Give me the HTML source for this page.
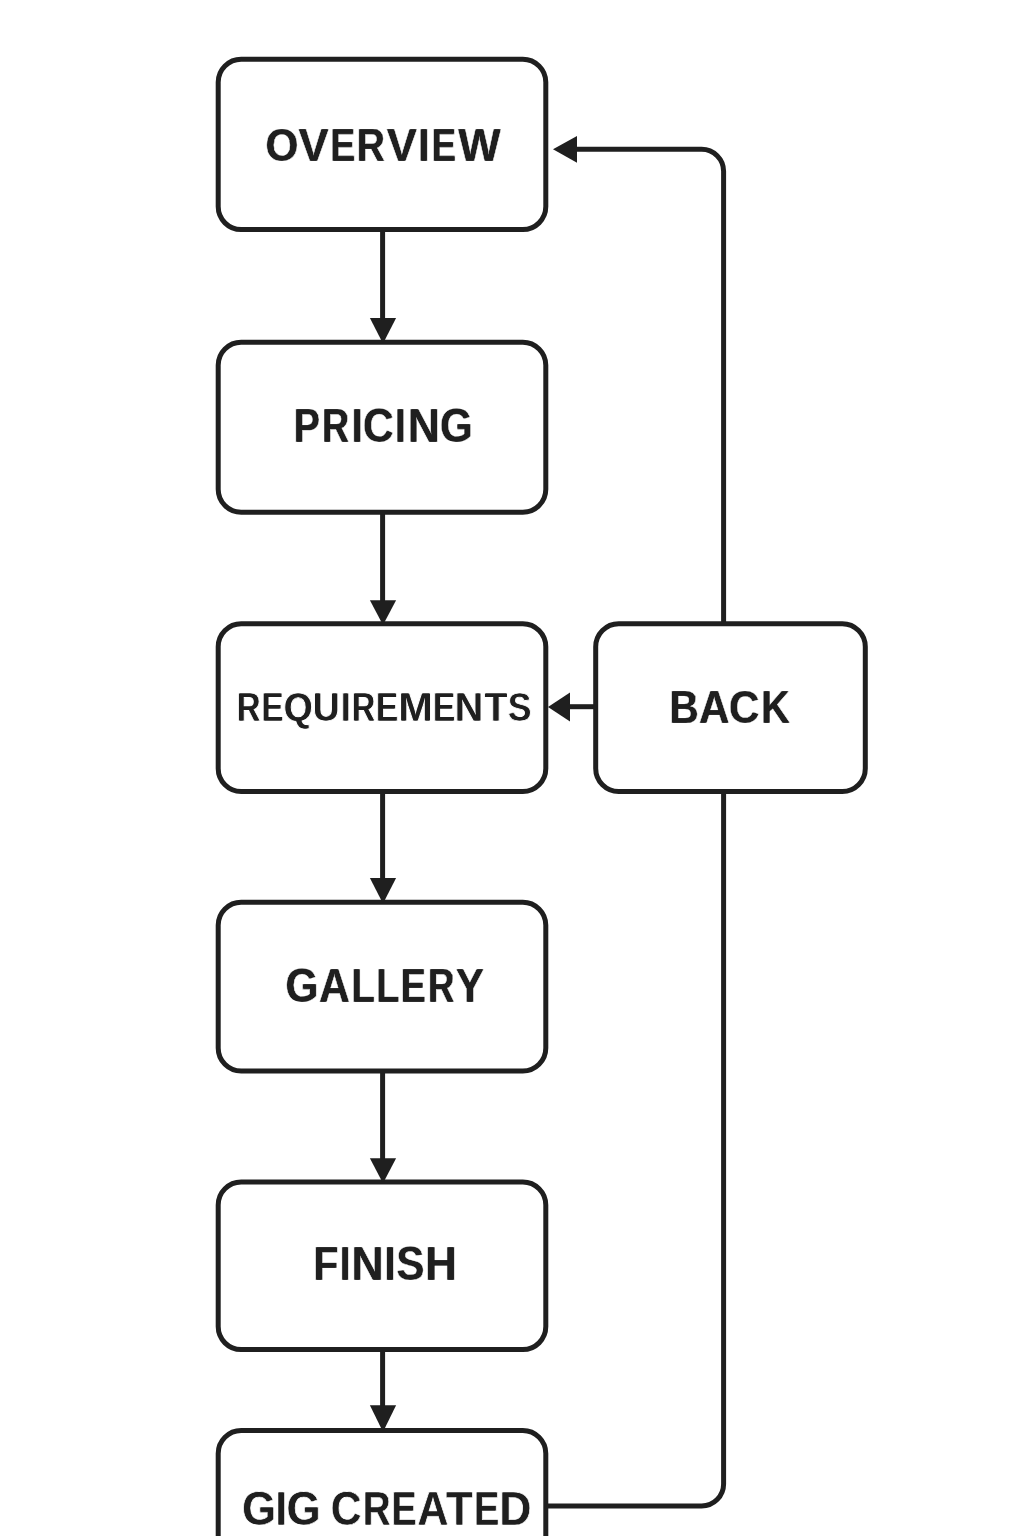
<!DOCTYPE html>
<html><head><meta charset="utf-8"><style>
html,body{margin:0;padding:0;background:#ffffff;width:1024px;height:1536px;overflow:hidden}
svg{display:block}
text{font-family:"Liberation Sans",sans-serif;font-weight:bold}
</style></head><body>
<svg width="1024" height="1536" viewBox="0 0 1024 1536">
<rect width="1024" height="1536" fill="#ffffff"/>
<g fill="none" stroke="#1f1f1f" stroke-width="5.0" stroke-linecap="butt" stroke-linejoin="round">
<path d="M 545.8 1506.0 L 701.6 1506.0 A 22 22 0 0 0 723.6 1484.0 L 723.6 171.3 A 22 22 0 0 0 701.6 149.3 L 574 149.3"/>
<line x1="382.6" y1="229.6" x2="382.6" y2="320.1"/><line x1="382.6" y1="512.3" x2="382.6" y2="602.2"/><line x1="382.6" y1="791.5" x2="382.6" y2="879.9"/><line x1="382.6" y1="1071.0" x2="382.6" y2="1160.3"/><line x1="382.6" y1="1349.6" x2="382.6" y2="1407.3"/><line x1="595.7" y1="706.7" x2="568" y2="706.7"/>
</g>
<g fill="#ffffff" stroke="#1f1f1f" stroke-width="5.0">
<rect x="218.2" y="59.3" width="327.60" height="170.30" rx="23" ry="23"/><rect x="218.2" y="342.3" width="327.60" height="170.00" rx="23" ry="23"/><rect x="218.2" y="623.8" width="327.60" height="167.70" rx="23" ry="23"/><rect x="218.2" y="902.3" width="327.60" height="168.70" rx="23" ry="23"/><rect x="218.2" y="1182.0" width="327.60" height="167.60" rx="23" ry="23"/><rect x="218.2" y="1430.5" width="327.60" height="189.50" rx="23" ry="23"/>
<rect x="595.7" y="623.8" width="269.60" height="167.70" rx="23" ry="23"/>
</g>
<g fill="#1f1f1f" stroke="none">
<polygon points="369.9,318.1 396.1,318.1 384.2,341.3 383.0,342.8 381.8,341.3"/><polygon points="369.9,600.2 396.1,600.2 384.2,622.8 383.0,624.3 381.8,622.8"/><polygon points="369.9,877.9 396.1,877.9 384.2,901.3 383.0,902.8 381.8,901.3"/><polygon points="369.9,1158.3 396.1,1158.3 384.2,1181.0 383.0,1182.5 381.8,1181.0"/><polygon points="369.9,1405.3 396.1,1405.3 384.2,1429.5 383.0,1431.0 381.8,1429.5"/><polygon points="553,149.3 577,135.9 577,162.70000000000002"/><polygon points="548,707.0 570,692.6 570,721.4000000000001"/>
</g>
<defs><g font-family="Liberation Sans, sans-serif" font-weight="bold"><g id="w0"><text transform="translate(265.61 160.90) scale(0.9179 1)" font-size="46.09">O</text><text transform="translate(298.55 160.90) scale(0.9814 1)" font-size="46.09">V</text><text transform="translate(330.27 160.90) scale(0.8103 1)" font-size="46.09">E</text><text transform="translate(356.77 160.90) scale(0.8440 1)" font-size="46.09">R</text><text transform="translate(386.75 160.90) scale(0.9814 1)" font-size="46.09">V</text><text transform="translate(418.11 160.90) scale(0.8979 1)" font-size="46.09">I</text><text transform="translate(431.84 160.90) scale(0.7873 1)" font-size="46.09">E</text><text transform="translate(458.20 160.90) scale(0.9741 1)" font-size="46.09">W</text></g><mask id="m0_0" maskUnits="userSpaceOnUse" x="261.1" y="121.4" width="245.5" height="51.2"><use href="#w0" x="-0.5" fill="#ffffff" stroke="#000000" stroke-width="0.6"/></mask><mask id="m0_1" maskUnits="userSpaceOnUse" x="261.1" y="121.4" width="245.5" height="51.2"><use href="#w0" x="0.5" fill="#ffffff" stroke="#000000" stroke-width="0.6"/></mask><g id="w1"><text transform="translate(293.76 442.10) scale(0.8281 1)" font-size="47.25">P</text><text transform="translate(321.96 442.10) scale(0.7933 1)" font-size="47.25">R</text><text transform="translate(351.64 442.10) scale(0.8320 1)" font-size="47.25">I</text><text transform="translate(362.90 442.10) scale(0.8983 1)" font-size="47.25">C</text><text transform="translate(394.99 442.10) scale(0.8174 1)" font-size="47.25">I</text><text transform="translate(407.71 442.10) scale(0.9399 1)" font-size="47.25">N</text><text transform="translate(439.92 442.10) scale(0.8905 1)" font-size="47.25">G</text></g><mask id="m1_0" maskUnits="userSpaceOnUse" x="290.1" y="401.8" width="186.1" height="52.0"><use href="#w1" x="-0.5" fill="#ffffff" stroke="#000000" stroke-width="0.6"/></mask><mask id="m1_1" maskUnits="userSpaceOnUse" x="290.1" y="401.8" width="186.1" height="52.0"><use href="#w1" x="0.5" fill="#ffffff" stroke="#000000" stroke-width="0.6"/></mask><g id="w2"><text transform="translate(236.72 721.05) scale(0.7930 1)" font-size="41.30">R</text><text transform="translate(261.61 721.05) scale(0.7970 1)" font-size="41.30">E</text><text transform="translate(283.76 721.05) scale(0.9022 1)" font-size="41.30">Q</text><text transform="translate(312.82 721.05) scale(0.8998 1)" font-size="41.30">U</text><text transform="translate(340.91 721.05) scale(0.8348 1)" font-size="41.30">I</text><text transform="translate(351.74 721.05) scale(0.7854 1)" font-size="41.30">R</text><text transform="translate(376.10 721.05) scale(0.8013 1)" font-size="41.30">E</text><text transform="translate(398.35 721.05) scale(1.0065 1)" font-size="41.30">M</text><text transform="translate(432.89 721.05) scale(0.8056 1)" font-size="41.30">E</text><text transform="translate(454.79 721.05) scale(0.9520 1)" font-size="41.30">N</text><text transform="translate(484.38 721.05) scale(0.9069 1)" font-size="41.30">T</text><text transform="translate(507.90 721.05) scale(0.8474 1)" font-size="41.30">S</text></g><mask id="m2_0" maskUnits="userSpaceOnUse" x="232.9" y="685.1" width="303.0" height="47.4"><use href="#w2" x="-0.5" fill="#ffffff" stroke="#000000" stroke-width="1.1"/></mask><mask id="m2_1" maskUnits="userSpaceOnUse" x="232.9" y="685.1" width="303.0" height="47.4"><use href="#w2" x="0.5" fill="#ffffff" stroke="#000000" stroke-width="1.1"/></mask><g id="w3"><text transform="translate(285.61 1001.80) scale(0.8855 1)" font-size="47.68">G</text><text transform="translate(319.03 1001.80) scale(0.8953 1)" font-size="47.68">A</text><text transform="translate(351.53 1001.80) scale(0.7982 1)" font-size="47.68">L</text><text transform="translate(376.14 1001.80) scale(0.7941 1)" font-size="47.68">L</text><text transform="translate(400.66 1001.80) scale(0.7869 1)" font-size="47.68">E</text><text transform="translate(427.93 1001.80) scale(0.7662 1)" font-size="47.68">R</text><text transform="translate(455.65 1001.80) scale(0.8888 1)" font-size="47.68">Y</text></g><mask id="m3_0" maskUnits="userSpaceOnUse" x="281.1" y="961.2" width="208.3" height="52.3"><use href="#w3" x="-0.5" fill="#ffffff" stroke="#000000" stroke-width="0.6"/></mask><mask id="m3_1" maskUnits="userSpaceOnUse" x="281.1" y="961.2" width="208.3" height="52.3"><use href="#w3" x="0.5" fill="#ffffff" stroke="#000000" stroke-width="0.6"/></mask><g id="w4"><text transform="translate(313.46 1279.80) scale(0.8461 1)" font-size="47.97">F</text><text transform="translate(340.02 1279.80) scale(0.7620 1)" font-size="47.97">I</text><text transform="translate(351.41 1279.80) scale(0.9257 1)" font-size="47.97">N</text><text transform="translate(384.73 1279.80) scale(0.7907 1)" font-size="47.97">I</text><text transform="translate(396.55 1279.80) scale(0.8686 1)" font-size="47.97">S</text><text transform="translate(425.37 1279.80) scale(0.9080 1)" font-size="47.97">H</text></g><mask id="m4_0" maskUnits="userSpaceOnUse" x="309.9" y="1239.0" width="150.2" height="52.5"><use href="#w4" x="-0.5" fill="#ffffff" stroke="#000000" stroke-width="0.6"/></mask><mask id="m4_1" maskUnits="userSpaceOnUse" x="309.9" y="1239.0" width="150.2" height="52.5"><use href="#w4" x="0.5" fill="#ffffff" stroke="#000000" stroke-width="0.6"/></mask><g id="w5"><text transform="translate(242.11 1525.10) scale(0.9219 1)" font-size="47.25">G</text><text transform="translate(275.61 1525.10) scale(0.8612 1)" font-size="47.25">I</text><text transform="translate(286.71 1525.10) scale(0.9219 1)" font-size="47.25">G</text><text transform="translate(330.75 1525.10) scale(0.9016 1)" font-size="47.25">C</text><text transform="translate(362.74 1525.10) scale(0.8166 1)" font-size="47.25">R</text><text transform="translate(391.62 1525.10) scale(0.7904 1)" font-size="47.25">E</text><text transform="translate(417.37 1525.10) scale(0.9130 1)" font-size="47.25">A</text><text transform="translate(446.01 1525.10) scale(0.9255 1)" font-size="47.25">T</text><text transform="translate(473.99 1525.10) scale(0.8017 1)" font-size="47.25">E</text><text transform="translate(499.28 1525.10) scale(0.9361 1)" font-size="47.25">D</text></g><mask id="m5_0" maskUnits="userSpaceOnUse" x="237.9" y="1484.9" width="297.4" height="51.8"><use href="#w5" x="-0.35" fill="#ffffff" stroke="#000000" stroke-width="0.8"/></mask><mask id="m5_1" maskUnits="userSpaceOnUse" x="237.9" y="1484.9" width="297.4" height="51.8"><use href="#w5" x="0.35" fill="#ffffff" stroke="#000000" stroke-width="0.8"/></mask><g id="w6"><text transform="translate(669.38 722.90) scale(0.8696 1)" font-size="46.38">B</text><text transform="translate(699.04 722.90) scale(0.9108 1)" font-size="46.38">A</text><text transform="translate(729.01 722.90) scale(0.9086 1)" font-size="46.38">C</text><text transform="translate(760.89 722.90) scale(0.8658 1)" font-size="46.38">K</text></g><mask id="m6_0" maskUnits="userSpaceOnUse" x="665.8" y="683.2" width="129.8" height="51.4"><use href="#w6" x="-0.5" fill="#ffffff" stroke="#000000" stroke-width="0.6"/></mask><mask id="m6_1" maskUnits="userSpaceOnUse" x="665.8" y="683.2" width="129.8" height="51.4"><use href="#w6" x="0.5" fill="#ffffff" stroke="#000000" stroke-width="0.6"/></mask></g></defs><rect x="261.1" y="121.4" width="245.5" height="51.2" fill="#1f1f1f" mask="url(#m0_0)"/><rect x="261.1" y="121.4" width="245.5" height="51.2" fill="#1f1f1f" mask="url(#m0_1)"/><rect x="290.1" y="401.8" width="186.1" height="52.0" fill="#1f1f1f" mask="url(#m1_0)"/><rect x="290.1" y="401.8" width="186.1" height="52.0" fill="#1f1f1f" mask="url(#m1_1)"/><rect x="232.9" y="685.1" width="303.0" height="47.4" fill="#1f1f1f" mask="url(#m2_0)"/><rect x="232.9" y="685.1" width="303.0" height="47.4" fill="#1f1f1f" mask="url(#m2_1)"/><rect x="281.1" y="961.2" width="208.3" height="52.3" fill="#1f1f1f" mask="url(#m3_0)"/><rect x="281.1" y="961.2" width="208.3" height="52.3" fill="#1f1f1f" mask="url(#m3_1)"/><rect x="309.9" y="1239.0" width="150.2" height="52.5" fill="#1f1f1f" mask="url(#m4_0)"/><rect x="309.9" y="1239.0" width="150.2" height="52.5" fill="#1f1f1f" mask="url(#m4_1)"/><rect x="237.9" y="1484.9" width="297.4" height="51.8" fill="#1f1f1f" mask="url(#m5_0)"/><rect x="237.9" y="1484.9" width="297.4" height="51.8" fill="#1f1f1f" mask="url(#m5_1)"/><rect x="665.8" y="683.2" width="129.8" height="51.4" fill="#1f1f1f" mask="url(#m6_0)"/><rect x="665.8" y="683.2" width="129.8" height="51.4" fill="#1f1f1f" mask="url(#m6_1)"/>
</svg>
</body></html>
